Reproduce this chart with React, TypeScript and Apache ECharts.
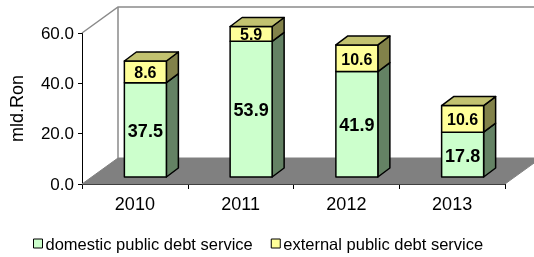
import React, { useEffect, useRef } from "react";
import * as echarts from "echarts";

const years = ["2010", "2011", "2012", "2013"];
const domestic = [37.5, 53.9, 41.9, 17.8];
const external = [8.6, 5.9, 10.6, 10.6];
const seriesNames = ["domestic public debt service", "external public debt service"];
const yMin = 0;
const yMax = 60;
const yInterval = 20;

const FONT = "'Liberation Sans', Arial, sans-serif";
const FRONT_DX = 10.5;
const FRONT_DY = -7;
const DEPTH_DX = 12;
const DEPTH_DY = -9;
const WALL_DX = 36;
const WALL_DY = -26;
const BAR_FRAC = 42 / 105.75;

const STYLES = [
  { front: "#CCFFCC", side: "#648264", top: "#A8C8A8", font: 18 },
  { front: "#FFFF99", side: "#82824A", top: "#C2C270", font: 16 },
];

function makeBarRender(styleIdx: number, drawTop: boolean) {
  const st = STYLES[styleIdx];
  return (params: any, api: any) => {
    const i = api.value(0);
    const base = api.value(1);
    const top = api.value(2);
    const val = api.value(3);
    const catW = api.size([1, 0])[0];
    const pB = api.coord([i, base]);
    const pT = api.coord([i, top]);
    const w = catW * BAR_FRAC;
    const x0 = pB[0] + FRONT_DX - w / 2;
    const x1 = x0 + w;
    const yb = pB[1] + FRONT_DY;
    const yt = pT[1] + FRONT_DY;
    const stroke = { stroke: "#000", lineWidth: 1.5, lineJoin: "round" };
    const children: any[] = [
      {
        type: "polygon",
        shape: { points: [[x1, yb], [x1 + DEPTH_DX, yb + DEPTH_DY], [x1 + DEPTH_DX, yt + DEPTH_DY], [x1, yt]] },
        style: { fill: st.side, ...stroke },
      },
      {
        type: "rect",
        shape: { x: x0, y: yt, width: w, height: yb - yt },
        style: { fill: st.front, ...stroke },
      },
    ];
    if (drawTop) {
      children.push({
        type: "polygon",
        shape: { points: [[x0, yt], [x0 + DEPTH_DX, yt + DEPTH_DY], [x1 + DEPTH_DX, yt + DEPTH_DY], [x1, yt]] },
        style: { fill: st.top, ...stroke },
      });
    }
    children.push({
      type: "text",
      x: x0 + w / 2,
      y: (yt + yb) / 2 + 1,
      style: {
        text: val.toFixed(1),
        fill: "#000",
        font: `bold ${st.font}px ${FONT}`,
        align: "center",
        verticalAlign: "middle",
      },
    });
    return { type: "group", children };
  };
}

function wallRender(params: any, api: any) {
  const catW = api.size([1, 0])[0];
  const p0 = api.coord([0, yMin]);
  const pN = api.coord([years.length - 1, yMin]);
  const pTop = api.coord([0, yMax]);
  const left = p0[0] - catW / 2;
  const right = pN[0] + catW / 2;
  const bottom = p0[1];
  const topY = pTop[1];
  return {
    type: "group",
    children: [
      {
        type: "polygon",
        shape: {
          points: [[left, bottom], [left + WALL_DX, bottom + WALL_DY], [right + WALL_DX, bottom + WALL_DY], [right, bottom]],
        },
        style: { fill: "#808080", stroke: "#808080", lineWidth: 1 },
      },
      {
        type: "polyline",
        shape: { points: [[left, topY], [left + WALL_DX, topY + WALL_DY], [right + WALL_DX, topY + WALL_DY]] },
        style: { fill: null, stroke: "#8a8a8a", lineWidth: 1.5 },
      },
      {
        type: "line",
        shape: { x1: left + WALL_DX, y1: topY + WALL_DY, x2: left + WALL_DX, y2: bottom + WALL_DY },
        style: { stroke: "#8a8a8a", lineWidth: 1.5 },
      },
    ],
  };
}

export default function App() {
  const ref = useRef<HTMLDivElement>(null);
  useEffect(() => {
    if (!ref.current) return;
    const chart = echarts.init(ref.current, null, { renderer: "svg" });
    const domData = years.map((_, i) => [i, 0, domestic[i], domestic[i]]);
    const extData = years.map((_, i) => [i, domestic[i], domestic[i] + external[i], external[i]]);
    chart.setOption({
      animation: false,
      textStyle: { fontFamily: FONT },
      grid: { left: 82, right: 29, top: 33, bottom: 73, containLabel: false },
      legend: {
        left: 33,
        top: 235,
        padding: 0,
        itemWidth: 9,
        itemHeight: 9,
        itemGap: 18,
        textStyle: { fontSize: 16.5, color: "#000", fontFamily: FONT, padding: [0, 0, 0, -2] },
        data: [
          { name: seriesNames[0], icon: "rect", itemStyle: { color: STYLES[0].front, borderColor: "#000", borderWidth: 1 } },
          { name: seriesNames[1], icon: "rect", itemStyle: { color: STYLES[1].front, borderColor: "#000", borderWidth: 1 } },
        ],
      },
      xAxis: {
        type: "category",
        data: years,
        boundaryGap: true,
        axisLine: { show: true, lineStyle: { color: "#000", width: 1 } },
        axisTick: { show: true, length: 5, lineStyle: { color: "#000" } },
        axisLabel: { fontSize: 18, color: "#000", margin: 11, fontFamily: FONT },
        splitLine: { show: false },
      },
      yAxis: {
        type: "value",
        min: yMin,
        max: yMax,
        interval: yInterval,
        name: "mld.Ron",
        nameLocation: "middle",
        nameGap: 56,
        nameTextStyle: { fontSize: 18, color: "#000", fontFamily: FONT },
        axisLine: { show: true, lineStyle: { color: "#000", width: 1 } },
        axisTick: { show: true, length: 4, lineStyle: { color: "#000" } },
        axisLabel: { fontSize: 17, color: "#000", margin: 8, fontFamily: FONT, formatter: (v: number) => v.toFixed(1) },
        splitLine: { show: false },
      },
      series: [
        {
          type: "custom",
          name: "walls",
          silent: true,
          z: 1,
          data: [[0, 0]],
          renderItem: wallRender,
        },
        {
          type: "custom",
          name: seriesNames[0],
          z: 3,
          itemStyle: { color: STYLES[0].front },
          data: domData,
          encode: { x: 0, y: [1, 2] },
          renderItem: makeBarRender(0, false),
        },
        {
          type: "custom",
          name: seriesNames[1],
          z: 4,
          itemStyle: { color: STYLES[1].front },
          data: extData,
          encode: { x: 0, y: [1, 2] },
          renderItem: makeBarRender(1, true),
        },
      ],
    });
    return () => chart.dispose();
  }, []);
  return <div ref={ref} style={{ position: "fixed", left: 0, top: 0, width: 534, height: 257 }} />;
}
